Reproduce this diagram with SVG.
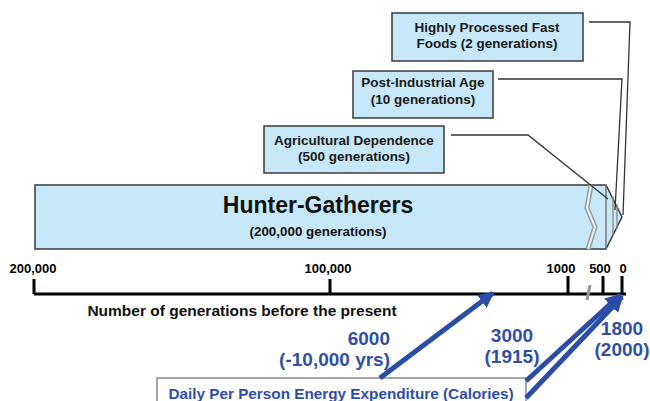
<svg xmlns="http://www.w3.org/2000/svg" width="650" height="401" viewBox="0 0 650 401">
<style>
text{font-family:"Liberation Sans",Arial,sans-serif;font-weight:bold}
.box{fill:#c6e8f8;stroke:#3a3a3a;stroke-width:1.5}
.lbl{font-size:13.5px;fill:#1a1a1a;text-anchor:middle}
.conn{fill:none;stroke:#333;stroke-width:1.3}
.axis{stroke:#000;stroke-width:3;fill:none}
.tick{font-size:13px;fill:#000;text-anchor:middle}
.blue{fill:#2f4fa6;font-size:19px}
.arr{stroke:#2c4ca8;stroke-width:5;fill:none;marker-end:url(#ah)}
</style>
<defs>
<marker id="ah" markerUnits="userSpaceOnUse" markerWidth="20" markerHeight="20" refX="14" refY="8" orient="auto">
<path d="M0,0 L16,8 L0,16 Z" fill="#2c4ca8"/>
</marker>
</defs>
<g id="hunter-gatherers">
<path class="box" d="M35,185 H606 L622,217 L606,249 H35 Z"/>
<line x1="606" y1="185" x2="606" y2="249" stroke="#777" stroke-width="1.5"/>
<line x1="613" y1="196" x2="613" y2="235" stroke="#888" stroke-width="1.3"/>
<line x1="617" y1="204" x2="617" y2="229" stroke="#888" stroke-width="1.3"/>
<polyline points="591,185 587,208 595,227 588,249" fill="none" stroke="#9a9a9a" stroke-width="5"/>
<polyline points="591,185 587,208 595,227 588,249" fill="none" stroke="#e8f4fa" stroke-width="2"/>
<text x="318" y="213" font-size="23" fill="#111" text-anchor="middle">Hunter-Gatherers</text>
<text x="318" y="236" font-size="13.4" fill="#111" text-anchor="middle">(200,000 generations)</text>
</g>
<g id="agricultural">
<rect class="box" x="264" y="126" width="180" height="47"/>
<text class="lbl" x="354" y="145">Agricultural Dependence</text>
<text class="lbl" x="354" y="161">(500 generations)</text>
</g>
<g id="post-industrial">
<rect class="box" x="353" y="71" width="140" height="47"/>
<text class="lbl" x="423" y="87">Post-Industrial Age</text>
<text class="lbl" x="423" y="104">(10 generations)</text>
</g>
<g id="fast-foods">
<rect class="box" x="392" y="13" width="191" height="48"/>
<text class="lbl" x="487" y="32">Highly Processed Fast</text>
<text class="lbl" x="487" y="48">Foods (2 generations)</text>
</g>
<g id="axis">
<path class="axis" d="M34,294 H626"/>
<path class="axis" d="M34,279 V294 M330,279 V294 M568,276 V294 M603,276 V294 M622,276 V294"/>
<line x1="590" y1="285" x2="587" y2="300" stroke="#999" stroke-width="3"/>
<text class="tick" x="33" y="273">200,000</text>
<text class="tick" x="328" y="273">100,000</text>
<text class="tick" x="561" y="273">1000</text>
<text class="tick" x="600" y="273">500</text>
<text class="tick" x="623" y="273">0</text>
<text x="242" y="316" font-size="15.5" fill="#111" text-anchor="middle">Number of generations before the present</text>
</g>
<g id="energy">
<rect x="157" y="378" width="369" height="30" fill="#fff" stroke="#888" stroke-width="1.5"/>
<text x="341" y="399" font-size="15.3" fill="#2f4fa6" text-anchor="middle">Daily Per Person Energy Expenditure (Calories)</text>
<text class="blue" x="390" y="345" text-anchor="end">6000</text>
<text class="blue" x="390" y="366" text-anchor="end">(-10,000 yrs)</text>
<text class="blue" x="512" y="342" text-anchor="middle">3000</text>
<text class="blue" x="512" y="363" text-anchor="middle">(1915)</text>
<text class="blue" x="622" y="335" text-anchor="middle">1800</text>
<text class="blue" x="622" y="356" text-anchor="middle">(2000)</text>
</g>
<g id="connectors">
<path class="conn" d="M451,135 H528 L608,199"/>
<path class="conn" d="M498,79 H622 L615,210"/>
<path class="conn" d="M589,22 H630 L623,215"/>
<path class="arr" d="M380,378 L493,293"/>
<path class="arr" d="M526,381 L620,295"/>
<path class="arr" d="M526,398 L622,297"/>
</g>
</svg>
